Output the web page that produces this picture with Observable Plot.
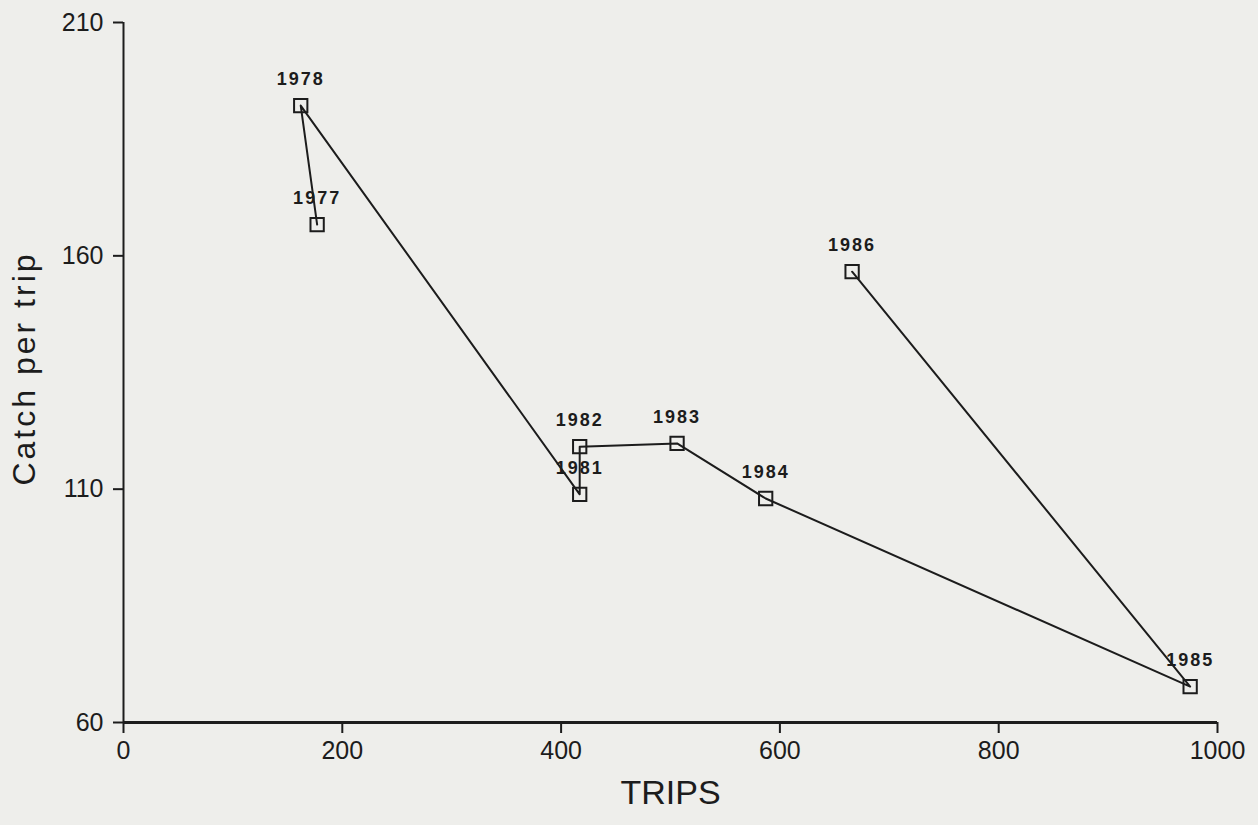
<!DOCTYPE html>
<html>
<head>
<meta charset="utf-8">
<script src="https://cdn.jsdelivr.net/npm/d3@7"></script>
<script src="https://cdn.jsdelivr.net/npm/@observablehq/plot@0.6"></script>
<style>
  html, body { margin: 0; padding: 0; background: #eeeeeb; }
  #chart svg { display: block; }
  #chart g[aria-label="x-axis tick label"] { font-size: 25px; }
  #chart g[aria-label="y-axis tick label"] { font-size: 25px; }
</style>
</head>
<body>
<div id="chart"></div>
<script>
const years = ["1977", "1978", "1981", "1982", "1983", "1984", "1985", "1986"];
const trips = [177, 162, 417, 417, 506, 587, 975, 666];
const catchPerTrip = [166.7, 192.2, 108.9, 119.1, 119.8, 108.0, 67.7, 156.6];
const xTicks = [0, 200, 400, 600, 800, 1000];
const yTicks = [60, 110, 160, 210];

const data = years.map((y, i) => ({year: y, trips: trips[i], cpt: catchPerTrip[i]}));
const ink = "#1c1c1c";

const chart = Plot.plot({
  width: 1258,
  height: 825,
  marginLeft: 123,
  marginRight: 41,
  marginTop: 22,
  marginBottom: 103,
  style: {background: "#eeeeeb", fontFamily: "Arial, 'Liberation Sans', sans-serif", color: ink},
  x: {domain: [0, 1000], label: null},
  y: {domain: [60, 210], label: null},
  marks: [
    Plot.axisX({ticks: xTicks, tickFormat: d => String(d), tickSize: 11, tickPadding: 8, stroke: ink, strokeWidth: 2, label: null}),
    Plot.axisY({ticks: yTicks, tickFormat: d => String(d), tickSize: 10, tickPadding: 10, stroke: ink, strokeWidth: 2, label: null}),
    Plot.ruleY([60], {stroke: ink, strokeWidth: 3}),
    Plot.ruleX([0], {stroke: ink, strokeWidth: 2}),
    Plot.line(data, {x: "trips", y: "cpt", stroke: ink, strokeWidth: 2}),
    Plot.dot(data, {x: "trips", y: "cpt", symbol: "square", r: 7.5, stroke: ink, strokeWidth: 2, fill: "none"}),
    Plot.text(data, {x: "trips", y: "cpt", text: "year", dy: -26, fontSize: 18, fill: ink, fontWeight: "bold"}),
    Plot.text(["TRIPS"], {frameAnchor: "bottom", textAnchor: "middle", dy: 81, fontSize: 34, fill: ink}),
    Plot.text(["Catch per trip"], {frameAnchor: "left", textAnchor: "middle", dx: -99, dy: -4, rotate: -90, fontSize: 32, fill: ink})
  ]
});
document.getElementById("chart").appendChild(chart);

// letter spacing for year labels and y label, to match the wider typewriter look
d3.select(chart).selectAll("text").each(function() {
  const t = this.textContent;
  if (years.includes(t)) this.setAttribute("letter-spacing", "2");
  if (t === "Catch per trip") this.setAttribute("letter-spacing", "3");
});
</script>
</body>
</html>
